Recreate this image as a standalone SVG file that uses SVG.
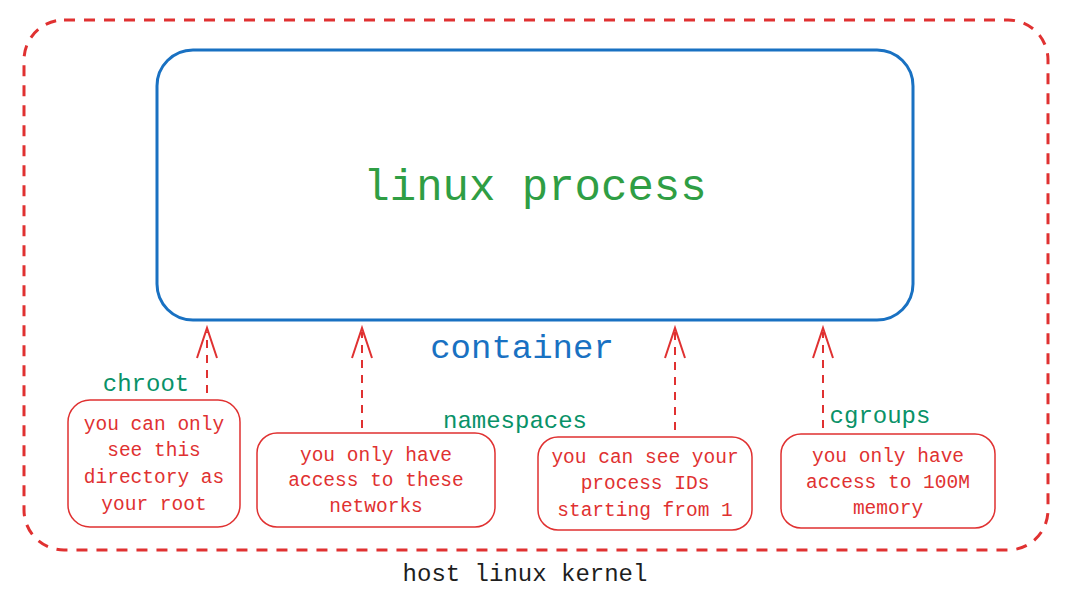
<svg xmlns="http://www.w3.org/2000/svg" width="1069" height="593" viewBox="0 0 1069 593">
<style>
text{font-family:"Liberation Mono","DejaVu Sans Mono",monospace;text-anchor:middle}
.note{fill:#fff;stroke:#e03131;stroke-width:1.5}
.nt{fill:#e03131;font-size:19.5px}
.lbl{fill:#099268;font-size:24px}
.arr{stroke:#e03131;stroke-width:2;fill:none;stroke-dasharray:8 7}
.head{stroke:#e03131;stroke-width:2;fill:none}
</style>
<rect width="1069" height="593" fill="#fff"/>
<g id="host">
<rect x="24" y="20" width="1024" height="530" rx="40" fill="none" stroke="#e03131" stroke-width="3" stroke-dasharray="11 9"/>
<text x="525" y="581" font-size="24" fill="#1e1e1e">host linux kernel</text>
</g>
<g id="container">
<rect x="157" y="50" width="756" height="270" rx="36" fill="none" stroke="#1971c2" stroke-width="3"/>
<text x="535" y="200" font-size="44" fill="#2f9e44">linux process</text>
<text x="522" y="358" font-size="34" fill="#1971c2">container</text>
</g>
<g id="connectors">
<path class="arr" d="M207 393V332M362 428V332M675 430V332M823 428V332"/>
<path class="head" d="M197 358L207 328L217 358M352 358L362 328L372 358M665 358L675 328L685 358M813 358L823 328L833 358"/>
</g>
<g id="chroot">
<text class="lbl" x="146" y="391">chroot</text>
<rect class="note" x="68" y="400" width="172" height="127" rx="22"/>
<text class="nt" x="154" y="430">you can only</text>
<text class="nt" x="154" y="456">see this</text>
<text class="nt" x="154" y="483">directory as</text>
<text class="nt" x="154" y="510">your root</text>
</g>
<g id="namespaces">
<text class="lbl" x="515" y="428">namespaces</text>
<rect class="note" x="257" y="433" width="238" height="94" rx="20"/>
<text class="nt" x="376" y="461">you only have</text>
<text class="nt" x="376" y="486">access to these</text>
<text class="nt" x="376" y="512">networks</text>
</g>
<g id="pid">
<rect class="note" x="538" y="437" width="214" height="93" rx="20"/>
<text class="nt" x="645" y="463">you can see your</text>
<text class="nt" x="645" y="489">process IDs</text>
<text class="nt" x="645" y="516">starting from 1</text>
</g>
<g id="cgroups">
<text class="lbl" x="880" y="423">cgroups</text>
<rect class="note" x="781" y="434" width="214" height="94" rx="20"/>
<text class="nt" x="888" y="462">you only have</text>
<text class="nt" x="888" y="488">access to 100M</text>
<text class="nt" x="888" y="514">memory</text>
</g>
</svg>
